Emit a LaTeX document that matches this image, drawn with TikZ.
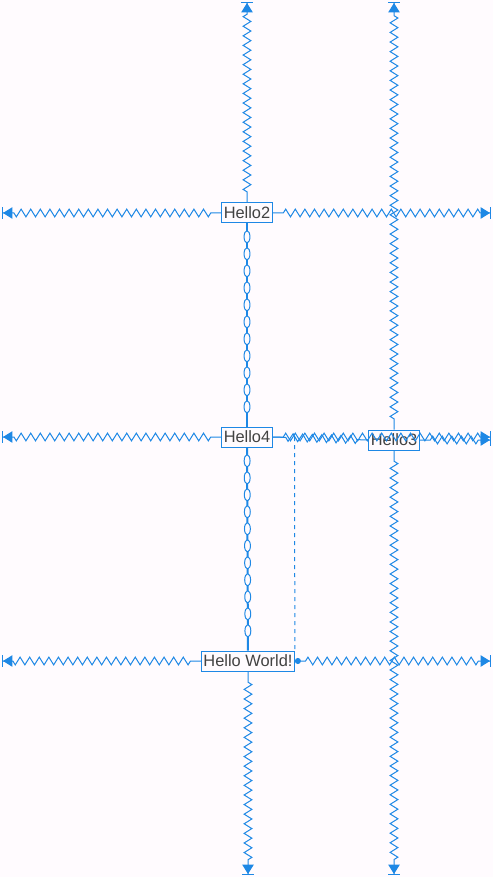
\documentclass[tikz,border=0pt]{standalone}
\usepackage{fontspec}
\setmainfont{Liberation Sans}
\usetikzlibrary{arrows.meta, decorations.pathmorphing, decorations.markings}
\definecolor{constraint}{RGB}{30, 136, 229}
\definecolor{label}{RGB}{66, 66, 66}
\definecolor{canvas}{RGB}{255, 251, 254}
\tikzstyle{spring} = [constraint, line width=0.75pt, decorate,
  decoration={zigzag, segment length=7.2pt, amplitude=2.9pt, pre length=8pt, post length=8pt}]
\tikzstyle{arrow} = [-{Triangle[length=7pt, width=8.5pt]Bar[width=8.5pt]}]
\tikzstyle{dotarrow} = [{Circle[length=4.5pt]}-{Triangle[length=7pt, width=8.5pt]Bar[width=8.5pt]}]
\tikzstyle{chain} = [constraint, line width=1.5pt, postaction={decorate},
  decoration={markings, mark=between positions 10pt and -6pt step 12.75pt with
    {\draw[constraint, line width=0.75pt, fill=canvas] (0,0) ellipse (4.6pt and 2.2pt);}}]
\tikzstyle{guide} = [constraint, dashed, line width=0.75pt]
\newcommand{\tikzwidgetnode}{\node[
  draw=constraint, line width=0.75pt, text=label, inner xsep=1.4pt, inner ysep=0pt,
  minimum height=15pt, font=\fontsize{12.3pt}{12.3pt}\selectfont
]}

\begin{document}
\begin{tikzpicture}[x=0.75pt, y=-0.75pt]
    \fill[canvas] (0,0) rectangle (493,877);
    \useasboundingbox (0,0) rectangle (493,877);

    % nodes
    \tikzwidgetnode at (247,213) (hello2) {Hello2};
    \tikzwidgetnode at (247,437) (hello4) {Hello4};
    \tikzwidgetnode at (394,440) (hello3) {Hello3};
    \tikzwidgetnode at (248,661) (world)  {Hello World!};

    % parent edges
    \coordinate (top1)    at (247,2);
    \coordinate (top2)    at (394,2);
    \coordinate (bottom1) at (248,875);
    \coordinate (bottom2) at (394,875);
    \coordinate (left1)   at (2,213);
    \coordinate (right1)  at (491,213);
    \coordinate (left2)   at (2,437);
    \coordinate (right2)  at (491,437);
    \coordinate (right3b) at (491,440);
    \coordinate (left3)   at (2,661);
    \coordinate (right3)  at (491,661);
    \coordinate (guidetop) at (294.5,437);

    % springs
    \draw[spring, arrow]    (hello2) -- (top1);
    \draw[spring, arrow]    (hello2) -- (left1);
    \draw[spring, arrow]    (hello2) -- (right1);
    \draw[spring, arrow]    (hello4) -- (left2);
    \draw[spring, arrow]    (hello4) -- (right2);
    \draw[spring]           (hello3.west) -- (hello4.east);
    \draw[spring, arrow]    (hello3) -- (right3b);
    \draw[spring, arrow]    (hello3) -- (top2);
    \draw[spring, arrow]    (hello3) -- (bottom2);
    \draw[spring, arrow]    (world) -- (left3);
    \draw[spring, dotarrow] (world.east) -- (right3);
    \draw[spring, arrow]    (world) -- (bottom1);

    % chains
    \draw[chain] (hello2) -- (hello4);
    \draw[chain] (hello4) -- (world);

    % baseline guide
    \draw[guide] (guidetop) -- (world.north east);
\end{tikzpicture}
\end{document}
